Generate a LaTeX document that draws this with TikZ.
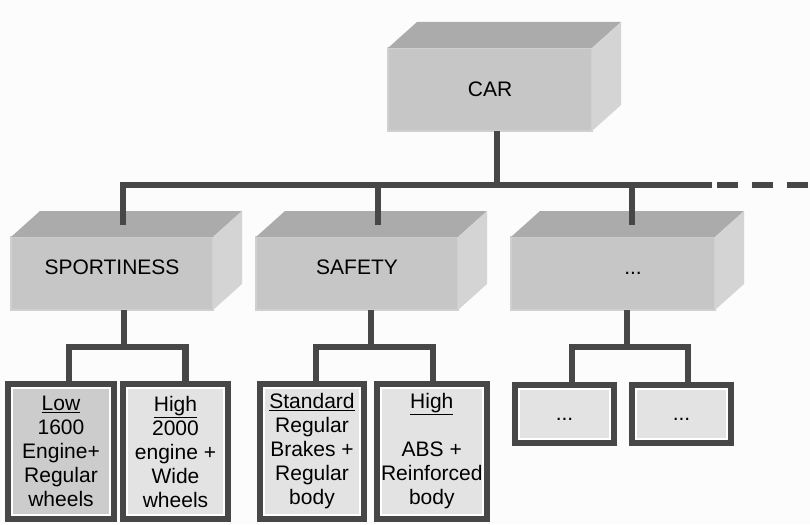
\documentclass[tikz,border=0pt]{standalone}
\usepackage{fontspec}
\setmainfont{Liberation Sans}
\usetikzlibrary{positioning}

\definecolor{frontgray}{HTML}{C6C6C6}
\definecolor{topgray}{HTML}{ABABAB}
\definecolor{sidegray}{HTML}{D4D4D4}
\definecolor{rimgray}{HTML}{D0D0D0}
\definecolor{linkgray}{HTML}{474747}
\definecolor{leafgray}{HTML}{E3E3E3}
\definecolor{lowgray}{HTML}{CCCCCC}
\definecolor{paper}{HTML}{FCFCFC}

\begin{document}
\begin{tikzpicture}[
  x=1pt, y=-1pt,
  node distance=43pt,
  every node/.style={align=center, inner sep=0pt, font=\fontsize{21}{24}\selectfont},
  box/.style={fill=frontgray, draw=rimgray, line width=1.5pt, outer sep=0pt, minimum width=202pt, minimum height=73pt},
  tier/.style={box, text height=15pt, text depth=14pt},
  leaf/.style={fill=leafgray, draw=white, line width=2pt, outer sep=7pt, preaction={draw=linkgray, line width=14pt}, minimum width=97pt, minimum height=127pt},
  link/.style={draw=linkgray, line width=6.5pt}
]
\fill[paper] (0,0) rectangle (810,524);
\useasboundingbox (0,0) rectangle (810,524);

% Nodes
\node[box, minimum width=204pt, minimum height=83pt] (car) at (490,89.5) {CAR};
\node[tier] (sport) at (112,273.5) {SPORTINESS};
\node[tier, right=of sport] (safety) {SAFETY};
\node[tier, right=53pt of safety, minimum width=204pt] (more) {\hspace*{40pt}...};

\node[leaf, fill=lowgray, minimum width=98pt] (low) at (61,451.5) {\underline{Low}\\1600\\Engine+\\Regular\\wheels};
\node[leaf, right=3pt of low] (fast) {\underline{High}\\2000\\engine +\\Wide\\wheels};
\node[leaf, minimum width=96pt] (std) at (312,451.5) {\underline{Standard}\\Regular\\Brakes +\\Regular\\body};
\node[leaf, right=7pt of std, minimum width=100pt] (abs) {\underline{High}\\[24pt]ABS +\\Reinforced\\body};
\node[leaf, minimum width=91pt, minimum height=50pt, text height=12pt] (etc1) at (564.5,414) {...};
\node[leaf, right=12pt of etc1, minimum width=91pt, minimum height=50pt, text height=12pt] (etc2) {...};

% Faces
\foreach \n in {car,sport,safety,more}{
  \fill[topgray] (\n.north west) -- ([shift={(29,-26)}]\n.north west) -- ([shift={(29,-26)}]\n.north east) -- (\n.north east) -- cycle;
  \fill[sidegray] (\n.north east) -- ([shift={(29,-26)}]\n.north east) -- ([shift={(29,-26)}]\n.south east) -- (\n.south east) -- cycle;
}

% Links
\coordinate (barR) at (712,185);
\coordinate (barEnd) at (810,185);
\coordinate (sportJ) at (124,347);
\coordinate (safetyJ) at (371,347);
\coordinate (moreJ) at (627,347);

\draw[link] ([xshift=7pt]car.south) -- ([xshift=7pt]car.south |- barR);
\draw[link] ([shift={(11,-12)}]sport.north) |- (barR);
\draw[link, dash pattern=on 21pt off 14pt] ([xshift=5pt]barR) -- (barEnd);
\draw[link] ([shift={(21,-12)}]safety.north) -- ([xshift=21pt]safety.north |- barR);
\draw[link] ([shift={(19,-12)}]more.north) -- ([xshift=19pt]more.north |- barR);

\draw[link] ([xshift=12pt]sport.south) -- (sportJ);
\draw[link] ([xshift=8pt]low.north) |- (sportJ) -| ([xshift=10pt]fast.north);
\draw[link] ([xshift=14pt]safety.south) -- (safetyJ);
\draw[link] ([xshift=4pt]std.north) |- (safetyJ) -| ([xshift=1pt]abs.north);
\draw[link] ([xshift=14pt]more.south) -- (moreJ);
\draw[link] ([xshift=7.5pt]etc1.north) |- (moreJ) -| ([xshift=6.5pt]etc2.north);

\end{tikzpicture}
\end{document}
